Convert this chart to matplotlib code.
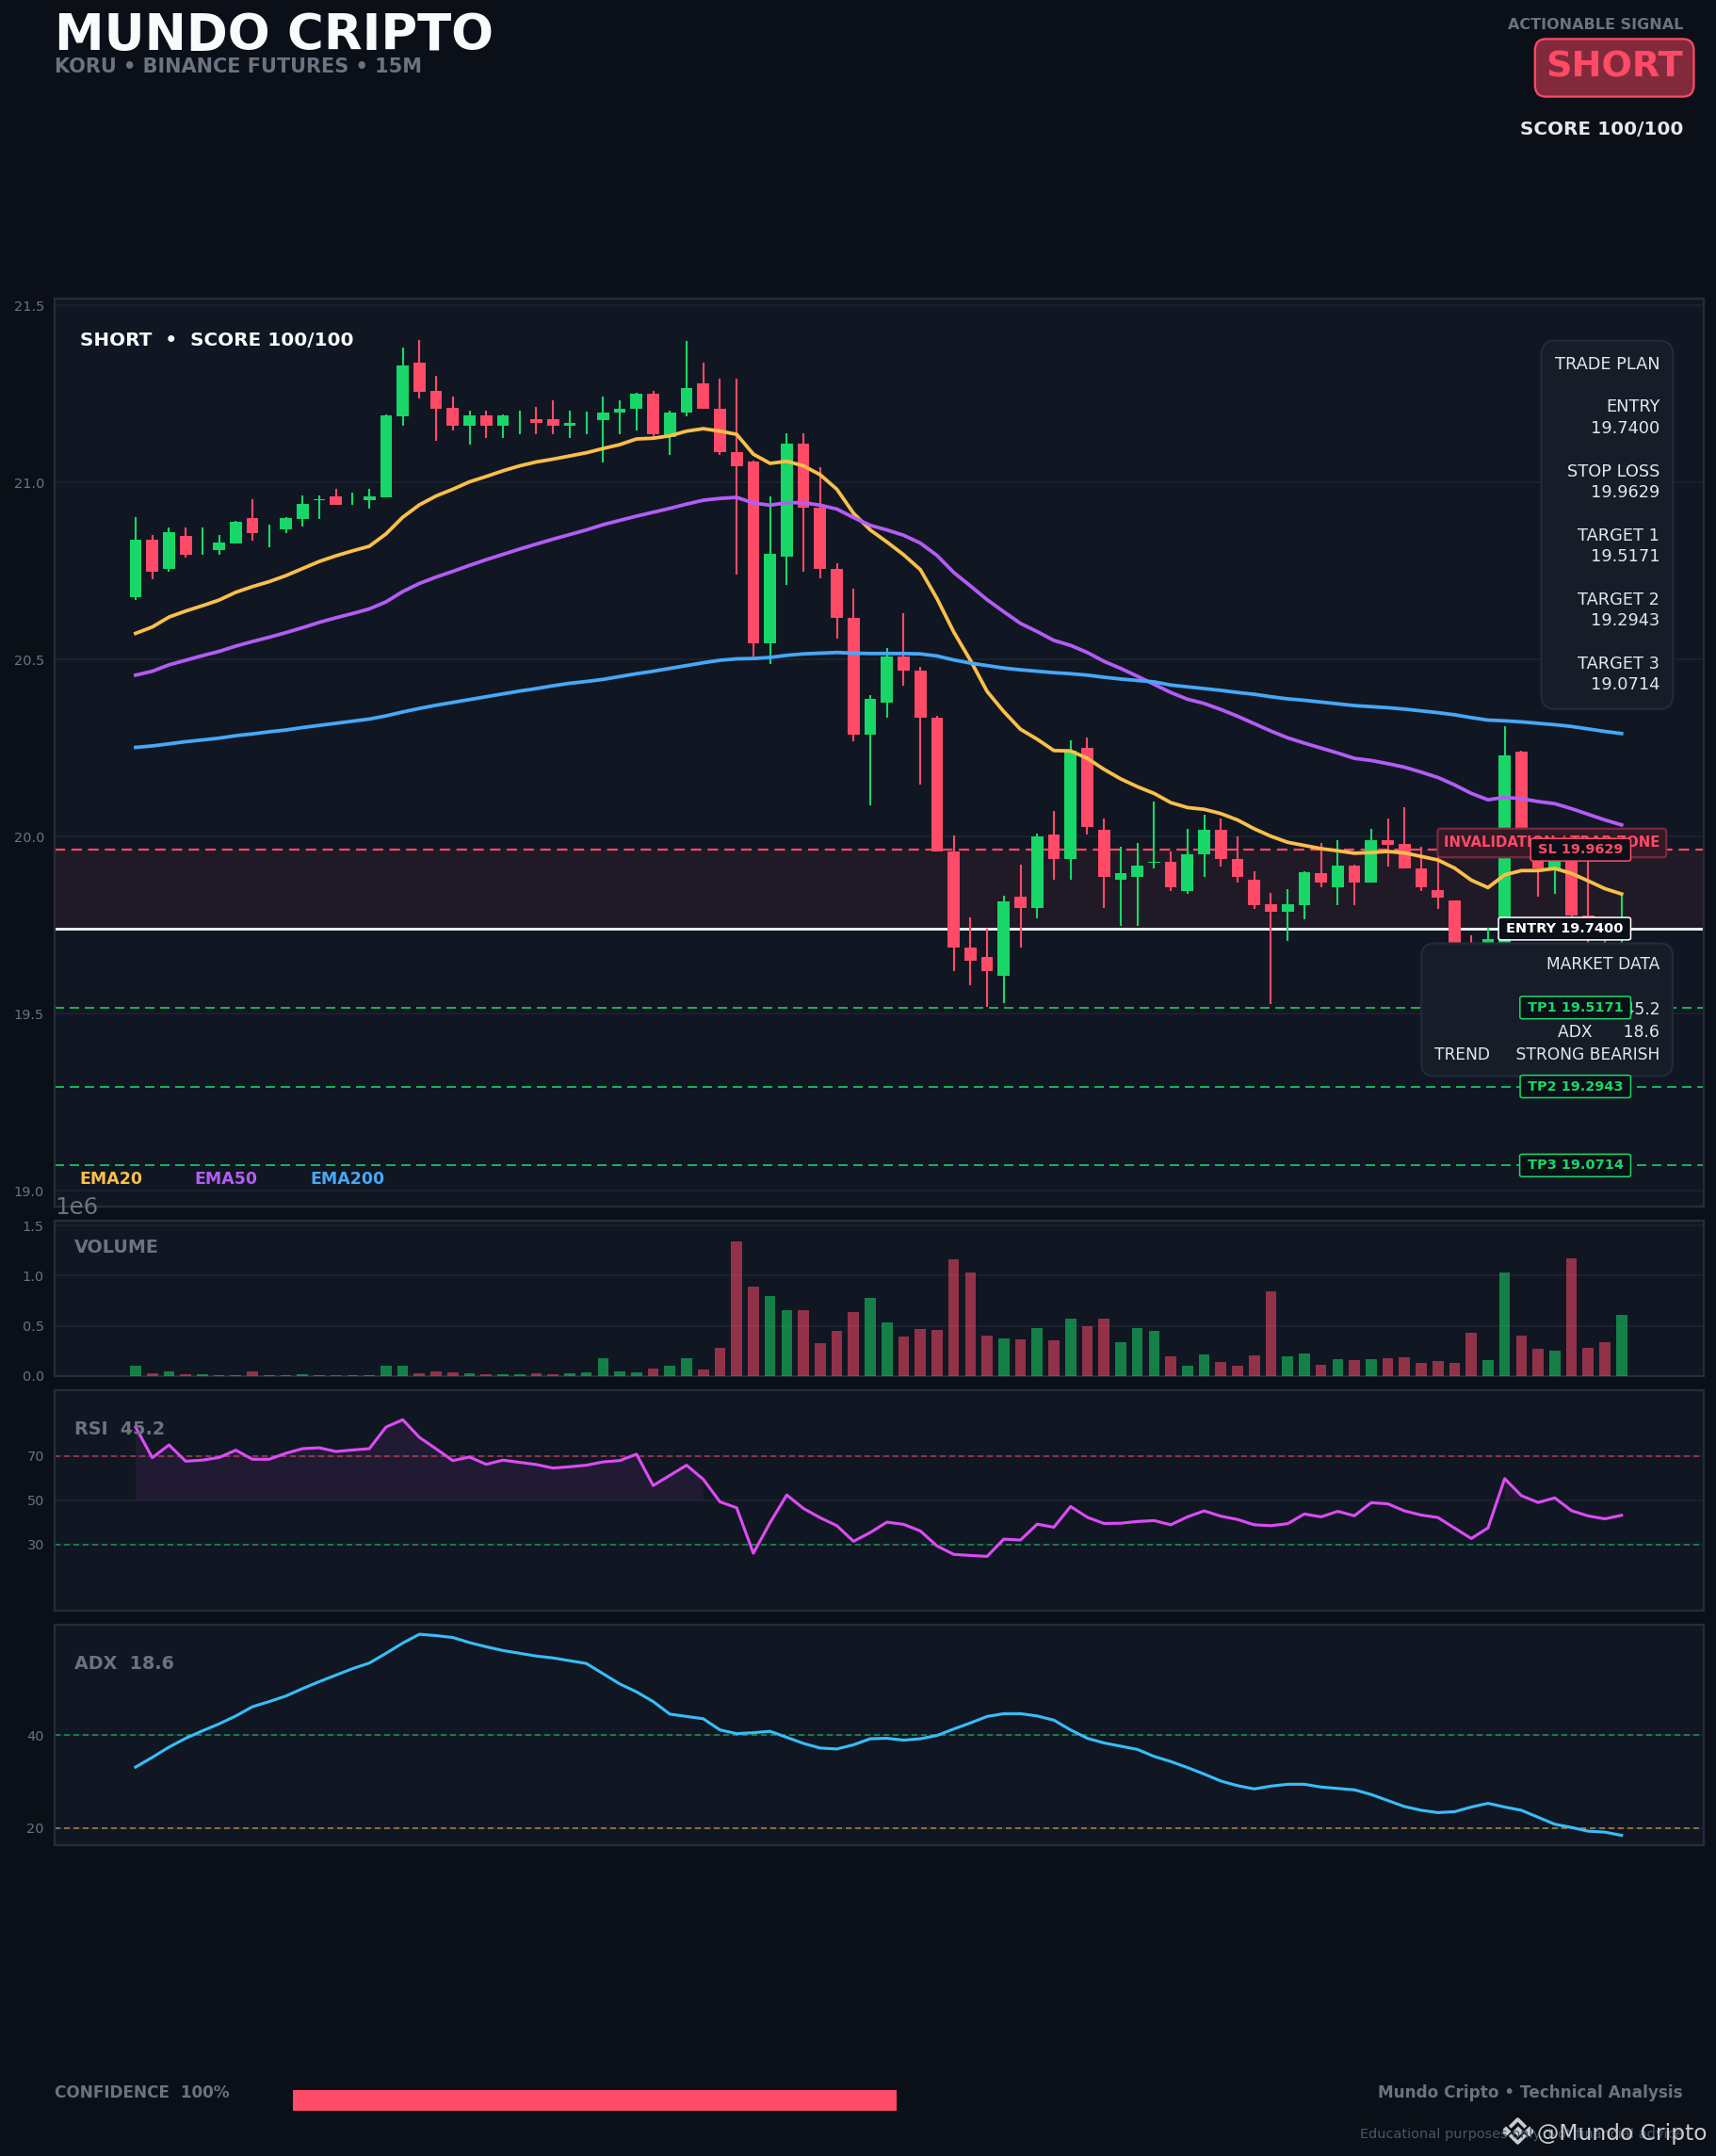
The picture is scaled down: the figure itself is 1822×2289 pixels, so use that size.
import matplotlib
matplotlib.use("Agg")
import matplotlib.pyplot as plt
import numpy as np

W, H = 1822, 2289
DPI = 160

BG = "#0b0f17"
PANEL = "#101722"
GRID = "#1c2330"
SPINE = "#262d3a"
MUTED = "#6b7280"
GREEN = "#18d768"
RED = "#ff4a68"
YELLOW = "#fbbf4a"
PURPLE = "#b45cf6"
BLUE = "#46a8f9"
MAGENTA = "#dd4bf5"
CYAN = "#38bdf8"

opens = [20.677, 20.838, 20.757, 20.848, 20.808, 20.808, 20.829, 20.899, 20.859, 20.869,
         20.898, 20.950, 20.960, 20.949, 20.949, 20.959, 21.188, 21.338, 21.258, 21.210,
         21.159, 21.189, 21.159, 21.178, 21.178, 21.178, 21.159, 21.178, 21.176, 21.198,
         21.208, 21.250, 21.128, 21.198, 21.280, 21.209, 21.087, 21.058, 20.547, 20.790,
         21.109, 20.928, 20.757, 20.619, 20.289, 20.377, 20.509, 20.468, 20.336, 19.957,
         19.688, 19.659, 19.608, 19.830, 19.798, 20.007, 19.938, 20.251, 20.018, 19.877,
         19.887, 19.927, 19.929, 19.847, 19.949, 20.018, 19.938, 19.877, 19.808, 19.789,
         19.807, 19.898, 19.858, 19.917, 19.869, 19.989, 19.978, 19.909, 19.848, 19.819,
         19.700, 19.670, 19.700, 20.240, 19.990, 19.911, 19.970, 19.778, 19.740, 19.710]
highs = [20.902, 20.851, 20.872, 20.872, 20.872, 20.851, 20.891, 20.952, 20.880, 20.902,
         20.963, 20.963, 20.981, 20.971, 20.981, 21.192, 21.380, 21.402, 21.301, 21.242,
         21.202, 21.202, 21.192, 21.202, 21.213, 21.231, 21.202, 21.201, 21.242, 21.231,
         21.254, 21.260, 21.202, 21.400, 21.339, 21.292, 21.292, 21.062, 20.962, 21.140,
         21.140, 21.042, 20.771, 20.701, 20.400, 20.533, 20.630, 20.480, 20.340, 20.003,
         19.771, 19.741, 19.832, 19.920, 20.009, 20.072, 20.271, 20.281, 20.050, 19.970,
         19.981, 20.100, 19.958, 20.021, 20.061, 20.050, 20.001, 19.901, 19.840, 19.851,
         19.901, 19.981, 19.991, 19.920, 20.021, 20.050, 20.082, 19.971, 19.944, 19.821,
         19.720, 19.742, 20.311, 20.243, 20.010, 19.975, 19.980, 19.940, 19.771, 19.835]
lows = [20.667, 20.728, 20.749, 20.789, 20.797, 20.797, 20.829, 20.837, 20.818, 20.858,
        20.877, 20.898, 20.938, 20.938, 20.927, 20.959, 21.159, 21.238, 21.119, 21.148,
        21.108, 21.127, 21.127, 21.137, 21.137, 21.137, 21.127, 21.136, 21.057, 21.136,
        21.147, 21.128, 21.079, 21.187, 21.208, 21.079, 20.739, 20.509, 20.488, 20.710,
        20.749, 20.729, 20.558, 20.269, 20.088, 20.336, 20.427, 20.148, 19.957, 19.619,
        19.579, 19.518, 19.529, 19.688, 19.768, 19.877, 19.877, 20.007, 19.798, 19.749,
        19.749, 19.909, 19.847, 19.837, 19.887, 19.916, 19.869, 19.797, 19.528, 19.706,
        19.767, 19.858, 19.807, 19.807, 19.869, 19.916, 19.909, 19.847, 19.797, 19.690,
        19.660, 19.650, 19.690, 19.940, 19.830, 19.837, 19.760, 19.700, 19.700, 19.700]
closes = [20.838, 20.749, 20.859, 20.797, 20.809, 20.831, 20.888, 20.858, 20.860, 20.899,
          20.939, 20.951, 20.938, 20.950, 20.960, 21.190, 21.330, 21.257, 21.209, 21.159,
          21.189, 21.159, 21.189, 21.179, 21.167, 21.159, 21.168, 21.179, 21.198, 21.209,
          21.250, 21.136, 21.198, 21.267, 21.208, 21.087, 21.047, 20.547, 20.798, 21.109,
          20.928, 20.757, 20.619, 20.289, 20.388, 20.509, 20.468, 20.336, 19.957, 19.688,
          19.649, 19.619, 19.818, 19.798, 20.000, 19.938, 20.242, 20.028, 19.887, 19.898,
          19.917, 19.928, 19.858, 19.949, 20.018, 19.937, 19.887, 19.807, 19.789, 19.808,
          19.899, 19.869, 19.917, 19.869, 19.989, 19.976, 19.909, 19.858, 19.828, 19.700,
          19.680, 19.710, 20.229, 19.950, 19.911, 19.970, 19.778, 19.710, 19.710, 19.740]

ema20 = [20.574, 20.592, 20.620, 20.637, 20.652, 20.668, 20.690, 20.706, 20.720, 20.737,
         20.757, 20.777, 20.793, 20.807, 20.820, 20.855, 20.902, 20.937, 20.962, 20.981,
         21.002, 21.017, 21.033, 21.047, 21.058, 21.066, 21.075, 21.084, 21.096, 21.107,
         21.123, 21.125, 21.132, 21.145, 21.152, 21.145, 21.136, 21.080, 21.054, 21.060,
         21.047, 21.022, 20.981, 20.913, 20.866, 20.832, 20.796, 20.754, 20.672, 20.578,
         20.498, 20.410, 20.353, 20.303, 20.275, 20.243, 20.242, 20.221, 20.190, 20.163,
         20.141, 20.122, 20.096, 20.082, 20.077, 20.065, 20.047, 20.022, 20.001, 19.984,
         19.975, 19.966, 19.960, 19.953, 19.955, 19.958, 19.954, 19.944, 19.934, 19.911,
         19.877, 19.856, 19.892, 19.904, 19.904, 19.910, 19.896, 19.875, 19.853, 19.838]
ema50 = [20.456, 20.467, 20.485, 20.498, 20.511, 20.523, 20.538, 20.551, 20.563, 20.576,
         20.590, 20.605, 20.618, 20.630, 20.643, 20.663, 20.692, 20.715, 20.733, 20.749,
         20.766, 20.782, 20.797, 20.812, 20.826, 20.840, 20.853, 20.866, 20.881, 20.893,
         20.905, 20.916, 20.927, 20.939, 20.950, 20.955, 20.958, 20.942, 20.936, 20.943,
         20.943, 20.936, 20.925, 20.901, 20.879, 20.866, 20.851, 20.829, 20.794, 20.746,
         20.708, 20.669, 20.635, 20.602, 20.579, 20.554, 20.540, 20.520, 20.495, 20.475,
         20.453, 20.430, 20.407, 20.388, 20.376, 20.359, 20.340, 20.319, 20.298, 20.279,
         20.264, 20.250, 20.236, 20.221, 20.215, 20.206, 20.196, 20.182, 20.167, 20.146,
         20.122, 20.104, 20.111, 20.107, 20.099, 20.093, 20.079, 20.063, 20.047, 20.033]
ema200 = [20.252, 20.256, 20.262, 20.268, 20.273, 20.278, 20.285, 20.290, 20.296, 20.301,
          20.308, 20.314, 20.320, 20.326, 20.332, 20.341, 20.352, 20.362, 20.371, 20.379,
          20.387, 20.395, 20.403, 20.411, 20.418, 20.426, 20.433, 20.438, 20.444, 20.452,
          20.460, 20.467, 20.475, 20.483, 20.491, 20.498, 20.502, 20.503, 20.506, 20.512,
          20.516, 20.518, 20.520, 20.518, 20.517, 20.517, 20.517, 20.516, 20.510, 20.499,
          20.490, 20.483, 20.476, 20.471, 20.467, 20.463, 20.460, 20.456, 20.450, 20.445,
          20.441, 20.437, 20.428, 20.423, 20.418, 20.413, 20.407, 20.402, 20.395, 20.389,
          20.385, 20.380, 20.375, 20.370, 20.367, 20.364, 20.360, 20.355, 20.350, 20.344,
          20.336, 20.329, 20.327, 20.324, 20.320, 20.316, 20.311, 20.304, 20.297, 20.291]

volume = [0.100, 0.025, 0.044, 0.016, 0.016, 0.006, 0.006, 0.044, 0.004, 0.004,
          0.016, 0.005, 0.005, 0.003, 0.004, 0.100, 0.100, 0.025, 0.044, 0.035,
          0.025, 0.016, 0.016, 0.016, 0.025, 0.016, 0.025, 0.035, 0.176, 0.044,
          0.035, 0.072, 0.100, 0.176, 0.063, 0.279, 1.343, 0.891, 0.797, 0.656,
          0.656, 0.326, 0.449, 0.637, 0.778, 0.533, 0.392, 0.467, 0.458, 1.164,
          1.032, 0.402, 0.373, 0.364, 0.477, 0.355, 0.571, 0.493, 0.571, 0.336,
          0.477, 0.449, 0.195, 0.100, 0.213, 0.138, 0.100, 0.204, 0.844, 0.195,
          0.223, 0.110, 0.166, 0.157, 0.166, 0.176, 0.185, 0.129, 0.147, 0.129,
          0.430, 0.157, 1.032, 0.402, 0.270, 0.251, 1.174, 0.279, 0.336, 0.609]

rsi = [83.2, 69.3, 75.1, 67.7, 68.2, 69.4, 72.7, 68.6, 68.6, 71.3,
       73.4, 73.8, 72.1, 72.8, 73.4, 83.2, 86.5, 78.5, 73.3, 68.0,
       69.6, 66.3, 68.2, 67.2, 66.2, 64.6, 65.2, 65.9, 67.4, 68.0,
       70.9, 56.7, 61.3, 65.9, 59.5, 49.3, 46.6, 26.0, 39.9, 52.4,
       46.3, 42.1, 38.5, 31.4, 35.4, 40.1, 39.1, 36.1, 29.3, 25.5,
       25.0, 24.6, 32.4, 32.0, 39.2, 37.8, 47.2, 42.3, 39.5, 39.6,
       40.4, 40.8, 38.9, 42.5, 45.2, 42.8, 41.3, 38.9, 38.5, 39.4,
       43.8, 42.5, 45.0, 43.0, 48.9, 48.4, 45.2, 43.3, 42.2, 37.4,
       32.7, 37.5, 59.8, 52.1, 49.0, 51.1, 45.3, 42.9, 41.6, 43.2]

adx = [33.1, 35.2, 37.4, 39.3, 40.9, 42.4, 44.1, 46.1, 47.2, 48.4,
       50.0, 51.5, 52.9, 54.3, 55.5, 57.6, 59.8, 61.7, 61.4, 61.0,
       59.9, 59.0, 58.2, 57.6, 57.0, 56.6, 56.0, 55.4, 53.2, 51.0,
       49.3, 47.2, 44.5, 44.0, 43.5, 41.1, 40.3, 40.5, 40.8, 39.5,
       38.2, 37.2, 37.0, 37.9, 39.2, 39.3, 38.9, 39.2, 39.9, 41.3,
       42.6, 44.0, 44.6, 44.6, 44.1, 43.2, 41.1, 39.3, 38.3, 37.6,
       36.9, 35.4, 34.3, 33.0, 31.6, 30.1, 29.1, 28.4, 29.0, 29.4,
       29.4, 28.8, 28.5, 28.2, 27.2, 25.9, 24.6, 23.8, 23.3, 23.5,
       24.5, 25.3, 24.5, 23.8, 22.3, 20.8, 20.1, 19.3, 19.1, 18.4]

entry = 19.7400
stop = 19.9629
targets = [19.5171, 19.2943, 19.0714]
confidence = 100

x = np.arange(len(closes))
o, h, l, c = map(np.array, (opens, highs, lows, closes))
up = c >= o
candle_colors = np.where(up, GREEN, RED)


def axes_px(x0, y0, x1, y1):
    a = fig.add_axes([x0 / W, 1 - y1 / H, (x1 - x0) / W, (y1 - y0) / H], facecolor=PANEL)
    a.set_xlim(-4.85, 93.9)
    a.set_xticks([])
    a.tick_params(axis="y", length=0, labelsize=6.5, labelcolor=MUTED, pad=5)
    a.grid(axis="y", color=GRID, lw=0.8)
    a.set_axisbelow(True)
    for s in a.spines.values():
        s.set_color(SPINE)
        s.set_linewidth(1)
    return a


def text_px(px, py, s, **kw):
    return fig.text(px / W, 1 - py / H, s, va="baseline", **kw)


def level_label(y, s, color):
    ax.text(89.1, y, s, ha="right", va="center", fontsize=6.5, fontweight="bold", color=color, zorder=10,
            bbox=dict(boxstyle="round,pad=0.55,rounding_size=0.2", mutation_aspect=0.62,
                      fc=BG, ec=color, lw=0.7))


fig = plt.figure(figsize=(W / DPI, H / DPI), dpi=DPI, facecolor=BG)

# price panel
ax = axes_px(58, 317.3, 1808.6, 1280.7)
ax.set_ylim(18.956, 21.5186)
ax.set_yticks([19.0, 19.5, 20.0, 20.5, 21.0, 21.5])
ax.axhspan(entry, stop, color=RED, alpha=0.07, lw=0, zorder=1)
ax.vlines(x, l, h, colors=candle_colors, lw=0.95, zorder=3)
ax.bar(x, np.maximum(np.abs(c - o), 0.0015), bottom=np.minimum(o, c), width=0.72,
       color=candle_colors, zorder=4)
ax.plot(x, ema20, color=YELLOW, lw=1.7, zorder=5)
ax.plot(x, ema50, color=PURPLE, lw=1.7, zorder=5)
ax.plot(x, ema200, color=BLUE, lw=1.7, zorder=5)
ax.axhline(stop, color=RED, lw=1.0, ls=(0, (5, 3)), zorder=2.5)
ax.axhline(entry, color="#f1f3f7", lw=1.3, zorder=2.5)
for t in targets:
    ax.axhline(t, color=GREEN, lw=0.9, ls=(0, (5, 3)), alpha=0.8, zorder=2.5)

panel_box = dict(boxstyle="round,pad=0.8", fc="#161c28", ec="#232a38", lw=1)
ax.text(0.9735, 0.9369, "TRADE PLAN\n\nENTRY\n19.7400\n\nSTOP LOSS\n19.9629\n\nTARGET 1\n19.5171\n\n"
        "TARGET 2\n19.2943\n\nTARGET 3\n19.0714", transform=ax.transAxes, ha="right", va="top",
        ma="right", fontsize=8, color="#e5e7eb", bbox=dict(panel_box, mutation_aspect=1.15),
        zorder=8, linespacing=1.335)
ax.text(0.9735, 0.1577, "MARKET DATA\n\nRSI      45.2\nADX      18.6\nTREND     STRONG BEARISH",
        transform=ax.transAxes, ha="right", va="bottom", ma="right", fontsize=7.7, color="#e5e7eb",
        bbox=panel_box, zorder=8, linespacing=1.42)

ax.text(91.3, 19.982, "INVALIDATION / TRAP ZONE", ha="right", va="center", fontsize=6.7,
        fontweight="bold", color=RED, zorder=9,
        bbox=dict(boxstyle="round,pad=0.45,rounding_size=0.2", mutation_aspect=1.15,
                  fc="#331925", ec="#7a2a3e", lw=1))
level_label(stop, f"SL {stop:.4f}", RED)
level_label(entry, f"ENTRY {entry:.4f}", "#ffffff")
for i, t in enumerate(targets):
    level_label(t, f"TP{i + 1} {t:.4f}", GREEN)

# volume panel
ax_vol = axes_px(58, 1295.7, 1808.6, 1460.7)
ax_vol.bar(x, np.array(volume) * 1e6, width=0.66, color=candle_colors, alpha=0.55, zorder=3)
ax_vol.set_ylim(0, 1.5526e6)
ax_vol.set_yticks([0, 0.5e6, 1.0e6, 1.5e6])
ax_vol.yaxis.get_offset_text().set_fontsize(11)

# rsi panel
ax_rsi = axes_px(58, 1475.7, 1808.6, 1710)
ax_rsi.set_ylim(0, 100)
ax_rsi.set_yticks([30, 50, 70])
rsi_arr = np.array(rsi)
ax_rsi.fill_between(x, 50, rsi_arr, where=rsi_arr > 50, color=MAGENTA, alpha=0.08, lw=0)
ax_rsi.axhline(70, color=RED, lw=0.9, ls=(0, (3, 2)), alpha=0.5)
ax_rsi.axhline(30, color=GREEN, lw=0.9, ls=(0, (3, 2)), alpha=0.5)
ax_rsi.plot(x, rsi, color=MAGENTA, lw=1.4)

# adx panel
ax_adx = axes_px(58, 1724.7, 1808.6, 1958.7)
ax_adx.set_ylim(16.35, 63.8)
ax_adx.set_yticks([20, 40])
ax_adx.axhline(40, color=GREEN, lw=0.9, ls=(0, (3, 2)), alpha=0.5)
ax_adx.axhline(20, color=YELLOW, lw=0.9, ls=(0, (3, 2)), alpha=0.5)
ax_adx.plot(x, adx, color=CYAN, lw=1.4)

# confidence bar
ax_conf = fig.add_axes([311.4 / W, 1 - 2241 / H, 640.3 / W, 22 / H])
ax_conf.barh([0], [confidence], height=1, color=RED)
ax_conf.set_xlim(0, 100)
ax_conf.set_ylim(-0.5, 0.5)
ax_conf.axis("off")

# header
text_px(58, 53, "MUNDO CRIPTO", fontsize=23.8, fontweight="bold", color="#f8fafc")
text_px(58, 77, "KORU • BINANCE FUTURES • 15M", fontsize=9.4, fontweight="bold", color=MUTED)
text_px(1787, 30.7, "ACTIONABLE SIGNAL", fontsize=7.2, fontweight="bold", color=MUTED, ha="right")
text_px(1787, 82, "SHORT", fontsize=17.2, fontweight="bold", color=RED, ha="right",
        bbox=dict(boxstyle="round,pad=0.3", mutation_aspect=1.1, fc="#822a3c", ec=RED, lw=1))
text_px(1787, 143, "SCORE 100/100", fontsize=9, fontweight="bold", color="#e5e7eb", ha="right")

# panel captions
text_px(85, 366.7, "SHORT  •  SCORE 100/100", fontsize=9, fontweight="bold", color="#f8fafc")
text_px(84, 1257, "EMA20", fontsize=7.8, fontweight="bold", color=YELLOW)
text_px(206, 1257, "EMA50", fontsize=7.8, fontweight="bold", color=PURPLE)
text_px(329, 1257, "EMA200", fontsize=7.8, fontweight="bold", color=BLUE)
text_px(79, 1330, "VOLUME", fontsize=8.6, fontweight="bold", color=MUTED)
text_px(79, 1522.7, "RSI  45.2", fontsize=8.6, fontweight="bold", color=MUTED)
text_px(79, 1771.7, "ADX  18.6", fontsize=8.6, fontweight="bold", color=MUTED)

# footer
text_px(58, 2226.7, "CONFIDENCE  100%", fontsize=7.6, fontweight="bold", color=MUTED)
text_px(1787, 2226.7, "Mundo Cripto • Technical Analysis", fontsize=7.6, fontweight="bold",
        color=MUTED, ha="right")
text_px(1444, 2270, "Educational purposes only. Not financial advice", fontsize=6.5, color="#4b5563")
text_px(1632, 2271.7, "@Mundo Cripto", fontsize=10.5, color="#c8ccd2")

# exchange logo beside the watermark
ax_logo = fig.add_axes([1596 / W, 1 - 2278 / H, 31 / W, 31 / H])
ax_logo.set_xlim(-1, 1)
ax_logo.set_ylim(-1, 1)
ax_logo.axis("off")
ax_logo.plot([-0.45, 0, 0.45], [0.35, 0.8, 0.35], color="#c8ccd2", lw=1.7)
ax_logo.plot([-0.45, 0, 0.45], [-0.35, -0.8, -0.35], color="#c8ccd2", lw=1.7)
ax_logo.plot([-0.8, 0, 0.8], [0, 0, 0], ls="none", marker="D", ms=2.6, color="#c8ccd2")

fig.savefig("out.png", dpi=DPI, facecolor=BG)
